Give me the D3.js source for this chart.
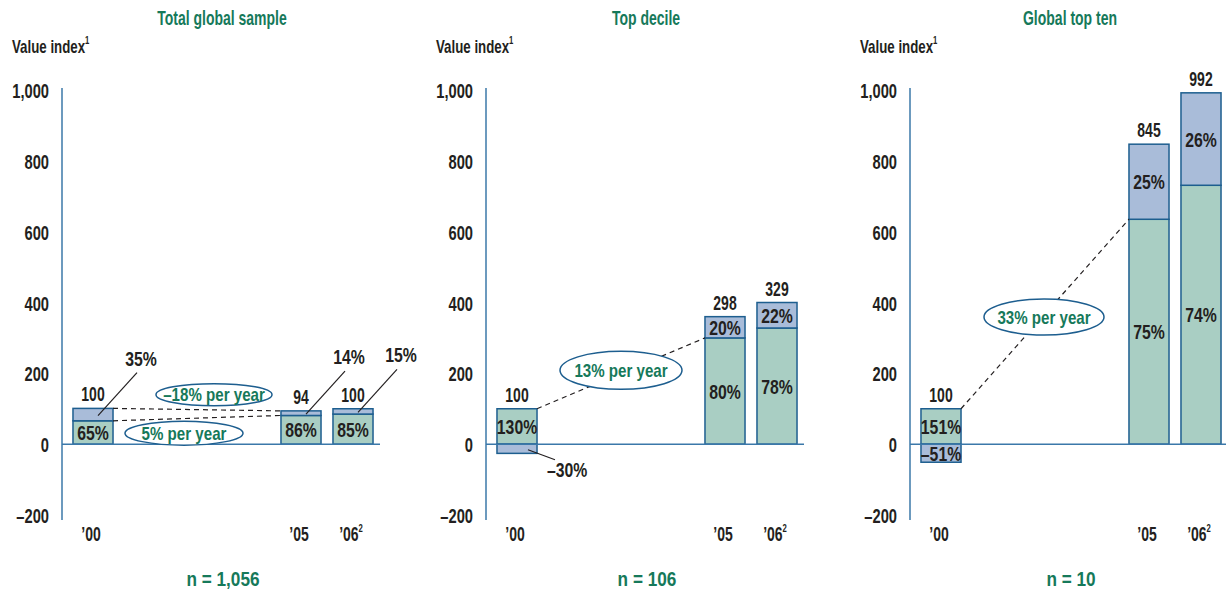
<!DOCTYPE html>
<html>
<head>
<meta charset="utf-8">
<script src="https://cdn.jsdelivr.net/npm/d3@7"></script>
<style>
body { margin: 0; background: #fff; }
text { font-family: "Liberation Sans", Arial, sans-serif; font-weight: bold; }
</style>
</head>
<body>
<svg id="chart" width="1226" height="591"></svg>
<script>
// data
var panelTitles = ["Total global sample", "Top decile", "Global top ten"];
var sampleSizes = ["n = 1,056", "n = 106", "n = 10"];
var years = ["\u201900", "\u201905", "\u201906"];
var yearNotes = ["", "", "2"];
var yearSlots = [0, 4, 5];
var yTicks = [-200, 0, 200, 400, 600, 800, 1000];

var totalLabels = [[100, 94, 100], [100, 298, 329], [100, 845, 992]];
// segments as drawn: green [lo, hi], blue [lo, hi]
var greenLo = [[0, 0, 0], [0, 0, 0], [0, 0, 0]];
var greenHi = [[66, 81, 85], [100, 300, 328], [100, 635, 731]];
var blueLo = [[66, 81, 85], [-26, 300, 328], [-51, 635, 731]];
var blueHi = [[101, 94, 100], [0, 360, 400], [0, 847, 992]];
var greenPct = [["65%", "86%", "85%"], ["130%", "80%", "78%"], ["151%", "75%", "74%"]];
var bluePct = [["35%", "14%", "15%"], ["\u201330%", "20%", "22%"], ["\u201351%", "25%", "26%"]];

var growthText = [["\u201318% per year", "5% per year"], ["13% per year"], ["33% per year"]];
var growthSeries = [["blue", "green"], ["green"], ["green"]];

// annotation layout (ellipse offsets from line middle)
var growthBox = [
	[{dx: 17, dy: -15, rx: 58, ry: 11}, {dx: -13, dy: 15, rx: 59, ry: 12}],
	[{dx: 0, dy: -3, rx: 61, ry: 19}],
	[{dx: -1, dy: 3, rx: 60, ry: 18}]
];

var SX = 0.70;
var dark = "#231f20", green = "#16795a", axisBlue = "#3b78a9", barStroke = "#1d5e8f";
var greenFill = "#a9cec3", blueFill = "#a9bcd9";

var svg = d3.select("#chart");

var y = d3.scaleLinear()
	.domain([-200, 1000])
	.range([515, 90]);

function fmt(d){
	return d < 0 ? "\u2013" + d3.format(",")(-d) : d3.format(",")(d);
}

function txt(g, x, yy, s, size, color, anchor, sx){
	return g.append("text")
		.attr("transform", "translate(" + x + "," + yy + ") scale(" + (sx || SX) + ",1)")
		.attr("text-anchor", anchor || "middle")
		.attr("font-size", size)
		.attr("fill", color || dark)
		.text(s);
}

for(var p = 0; p < 3; p++){
	var axisX = 62 + p * 424;
	var g = svg.append("g");

	var x = d3.scaleBand()
		.domain(d3.range(6))
		.range([axisX + 5, axisX + 317])
		.paddingInner(0.23)
		.paddingOuter(0.115);
	var bw = x.bandwidth();

	txt(g, axisX + 160, 25, panelTitles[p], 20, green);
	var vi = txt(g, axisX - 50, 53, "Value index", 19, dark, "start");
	vi.append("tspan").attr("font-size", 11).attr("dy", -9).text("1");

	var gy = g.append("g")
		.attr("transform", "translate(" + axisX + ",0)")
		.call(d3.axisLeft(y).tickValues(yTicks).tickSize(0).tickPadding(13).tickFormat(fmt));
	gy.attr("font-family", null).attr("font-size", null);
	gy.select(".domain").remove();
	gy.selectAll("text")
		.attr("x", -13 / SX)
		.attr("dy", "0.36em")
		.attr("transform", "scale(" + SX + ",1)")
		.attr("font-size", 21)
		.attr("fill", dark);

	g.append("line")
		.attr("x1", axisX).attr("x2", axisX)
		.attr("y1", 88).attr("y2", 520)
		.attr("stroke", axisBlue).attr("stroke-width", 1.5);

	var idx = d3.range(3);
	var gl = greenLo[p], gh = greenHi[p], bl = blueLo[p], bh = blueHi[p];

	g.selectAll(".green").data(idx).join("rect")
		.attr("class", "green")
		.attr("x", function(i){ return x(yearSlots[i]); })
		.attr("width", bw)
		.attr("y", function(i){ return y(gh[i]); })
		.attr("height", function(i){ return y(gl[i]) - y(gh[i]); })
		.attr("fill", greenFill).attr("stroke", barStroke).attr("stroke-width", 1.5);

	g.selectAll(".blue").data(idx).join("rect")
		.attr("class", "blue")
		.attr("x", function(i){ return x(yearSlots[i]); })
		.attr("width", bw)
		.attr("y", function(i){ return y(bh[i]); })
		.attr("height", function(i){ return y(bl[i]) - y(bh[i]); })
		.attr("fill", blueFill).attr("stroke", barStroke).attr("stroke-width", 1.5);

	g.append("line")
		.attr("x1", axisX).attr("x2", axisX + 318)
		.attr("y1", y(0)).attr("y2", y(0))
		.attr("stroke", axisBlue).attr("stroke-width", 1.5);

	// growth lines + ellipses
	growthText[p].forEach(function(label, k){
		var hi = growthSeries[p][k] == "blue" ? bh : gh;
		var x1 = x(yearSlots[0]) + bw, y1 = y(hi[0]);
		var x2 = x(yearSlots[1]), y2 = y(hi[1]);
		g.append("line")
			.attr("x1", x1).attr("y1", y1).attr("x2", x2).attr("y2", y2)
			.attr("stroke", dark).attr("stroke-width", 1.2).attr("stroke-dasharray", "5,4");
		var b = growthBox[p][k];
		var cx = (x1 + x2) / 2 + b.dx, cy = (y1 + y2) / 2 + b.dy;
		g.append("ellipse")
			.attr("cx", cx).attr("cy", cy).attr("rx", b.rx).attr("ry", b.ry)
			.attr("fill", "#fff").attr("stroke", barStroke).attr("stroke-width", 1.5);
		txt(g, cx, cy + 6.5, label, 18, green, "middle", 0.84);
	});

	// labels
	var PX = 0.79;
	idx.forEach(function(i){
		var cx = x(yearSlots[i]) + bw / 2;
		var top = Math.max(gh[i], bh[i]);
		txt(g, cx, y(top) - 7, totalLabels[p][i], 20);

		txt(g, cx, (y(gl[i]) + y(gh[i])) / 2 + 7.5, greenPct[p][i], 20, dark, "middle", PX);

		var by0 = y(bh[i]), by1 = y(bl[i]), mid = (by0 + by1) / 2;
		if(by1 - by0 >= 15){
			txt(g, cx, mid + 7.5, bluePct[p][i], 20, dark, "middle", PX);
		} else if(bh[i] > 0){
			g.append("line")
				.attr("x1", cx + 5).attr("y1", mid + 1)
				.attr("x2", cx + 44).attr("y2", mid - 42)
				.attr("stroke", dark).attr("stroke-width", 1.2);
			txt(g, cx + 48, mid - 49, bluePct[p][i], 20, dark, "middle", PX);
		} else {
			g.append("line")
				.attr("x1", cx + 11).attr("y1", mid + 1)
				.attr("x2", cx + 38).attr("y2", mid + 11)
				.attr("stroke", dark).attr("stroke-width", 1.2);
			txt(g, cx + 30, mid + 28, bluePct[p][i], 20, dark, "start", PX);
		}

		var xl = txt(g, cx - 2, 541, years[i], 20);
		if(yearNotes[i]) xl.append("tspan").attr("font-size", 11).attr("dy", -9).text(yearNotes[i]);
	});

	txt(g, axisX + 161, 586, sampleSizes[p], 20, green, "middle", 0.86);
}
</script>
</body>
</html>
